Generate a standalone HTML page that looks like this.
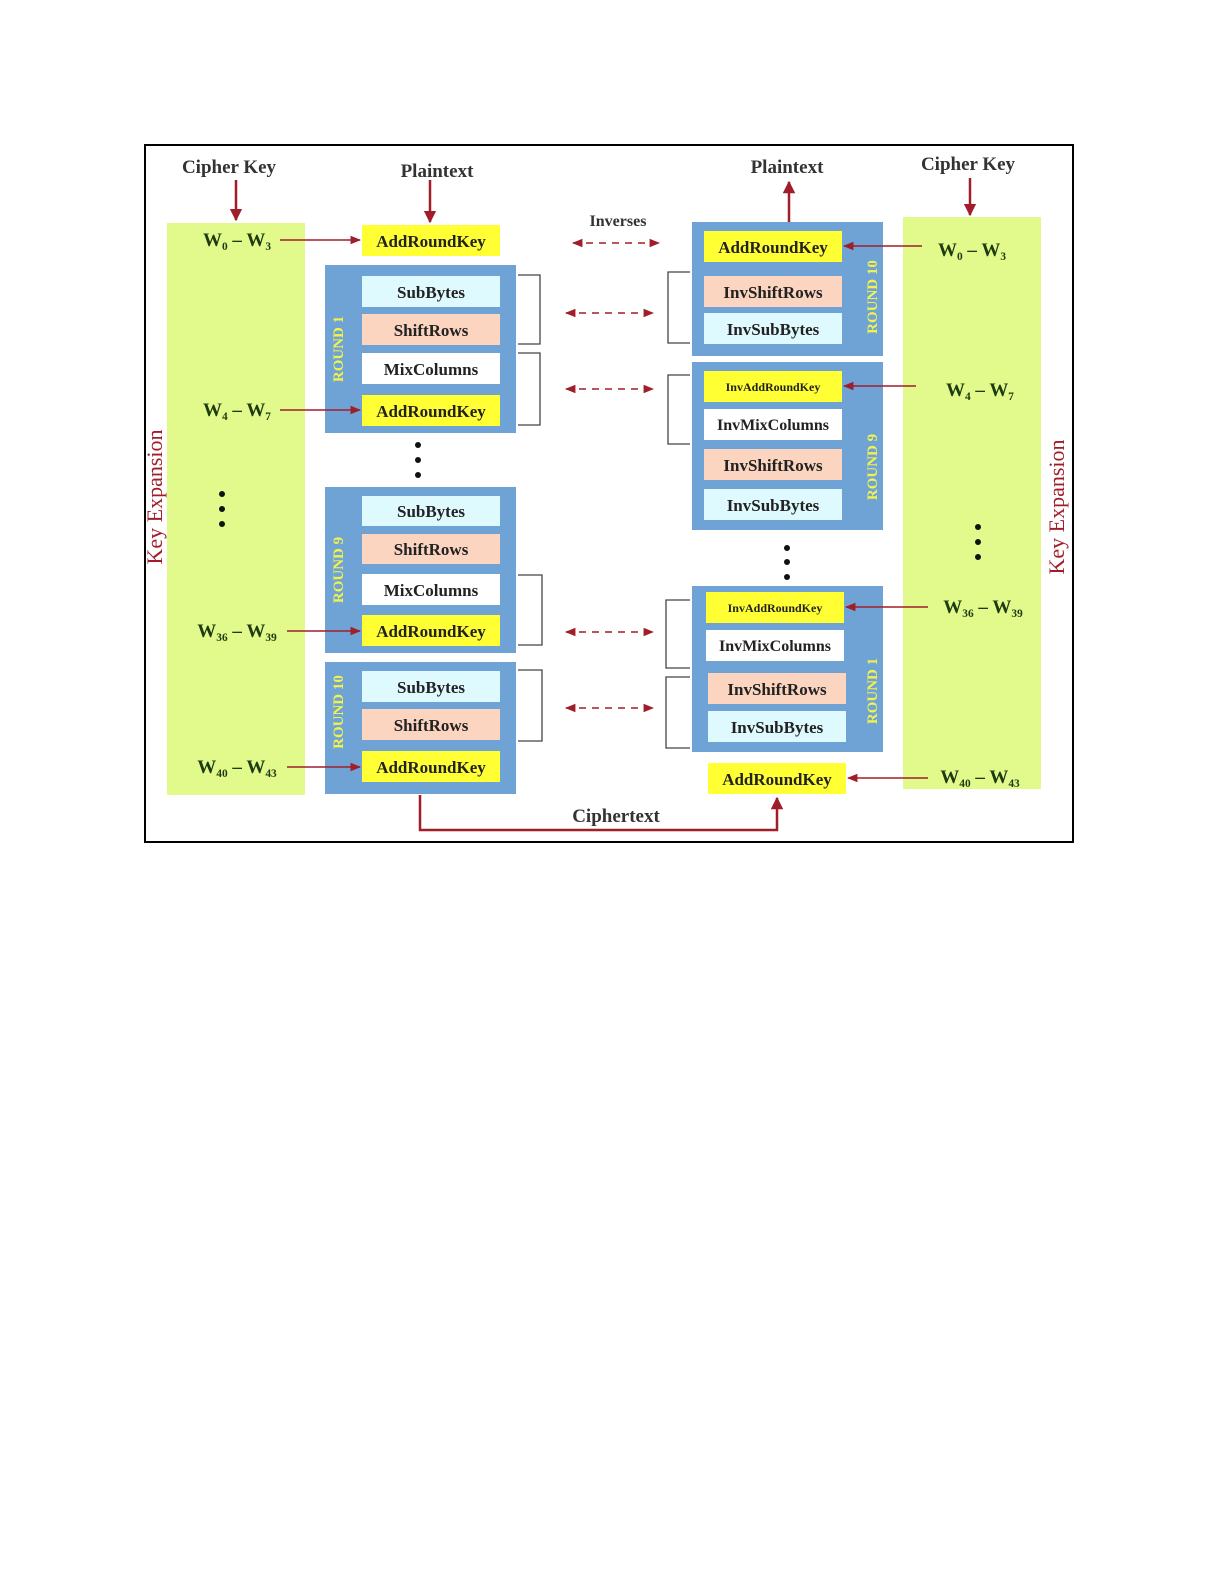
<!DOCTYPE html>
<html><head><meta charset="utf-8"><style>
html,body{margin:0;padding:0;background:#fff;overflow:hidden;width:1225px;height:1585px;}
svg{display:block;}
text{font-family:"Liberation Serif",serif;font-weight:bold;}
</style></head><body>
<svg width="1225" height="1585" viewBox="0 0 1225 1585" xmlns="http://www.w3.org/2000/svg">
<defs>
<marker id="ah" viewBox="0 0 10 10" refX="9" refY="5" markerWidth="7" markerHeight="7" orient="auto-start-reverse"><path d="M0,1 L10,5 L0,9 z" fill="#a01e2a"/></marker>
<marker id="ab" viewBox="0 0 10 10" refX="9" refY="5" markerWidth="5" markerHeight="5" orient="auto-start-reverse"><path d="M0,0 L10,5 L0,10 z" fill="#a01e2a"/></marker>
</defs>
<rect x="145" y="145" width="928" height="697" fill="#fff" stroke="#000" stroke-width="2"/>

<rect x="167" y="223" width="138" height="572" fill="#e2fa8c"/>
<rect x="903" y="217" width="138" height="572" fill="#e2fa8c"/>

<g fill="#333" font-size="19" text-anchor="middle">
<text x="229" y="173">Cipher Key</text>
<text x="437" y="177">Plaintext</text>
<text x="787" y="173">Plaintext</text>
<text x="968" y="170">Cipher Key</text>
<text x="618" y="226" font-size="16">Inverses</text>
<text x="616" y="822">Ciphertext</text>
</g>
<g stroke="#a01e2a" stroke-width="2.5" fill="none">
<line x1="236" y1="180" x2="236" y2="220" marker-end="url(#ab)"/>
<line x1="430" y1="180" x2="430" y2="222" marker-end="url(#ab)"/>
<line x1="789" y1="222" x2="789" y2="182" marker-end="url(#ab)"/>
<line x1="970" y1="178" x2="970" y2="215" marker-end="url(#ab)"/>
<polyline points="420,795 420,830 777,830 777,798" marker-end="url(#ab)"/>
</g>

<text transform="translate(162,497) rotate(-90)" text-anchor="middle" font-size="22" fill="#a01e2a" style="font-weight:normal">Key Expansion</text>
<text transform="translate(1064,507) rotate(-90)" text-anchor="middle" font-size="22" fill="#a01e2a" style="font-weight:normal">Key Expansion</text>

<g fill="#6fa3d6">
<rect x="325" y="265" width="191" height="168"/>
<rect x="325" y="487" width="191" height="166"/>
<rect x="325" y="662" width="191" height="132"/>
<rect x="692" y="222" width="191" height="134"/>
<rect x="692" y="362" width="191" height="168"/>
<rect x="692" y="586" width="191" height="166"/>
</g>

<g fill="#f2f24a" font-size="15" text-anchor="middle">
<text transform="translate(343,349) rotate(-90)">ROUND 1</text>
<text transform="translate(343,570) rotate(-90)">ROUND 9</text>
<text transform="translate(343,712) rotate(-90)">ROUND 10</text>
<text transform="translate(877,297) rotate(-90)">ROUND 10</text>
<text transform="translate(877,467) rotate(-90)">ROUND 9</text>
<text transform="translate(877,691) rotate(-90)">ROUND 1</text>
</g>

<g font-size="17" text-anchor="middle" fill="#222">
<rect x="362" y="225" width="138" height="31" fill="#ffff33"/><text x="431" y="247">AddRoundKey</text>
<rect x="362" y="276" width="138" height="31" fill="#dffaff"/><text x="431" y="298">SubBytes</text>
<rect x="362" y="314" width="138" height="31" fill="#fbd5bf"/><text x="431" y="336">ShiftRows</text>
<rect x="362" y="353" width="138" height="31" fill="#fff"/><text x="431" y="375">MixColumns</text>
<rect x="362" y="395" width="138" height="31" fill="#ffff33"/><text x="431" y="417">AddRoundKey</text>

<rect x="362" y="496" width="138" height="30" fill="#dffaff"/><text x="431" y="517">SubBytes</text>
<rect x="362" y="534" width="138" height="30" fill="#fbd5bf"/><text x="431" y="555">ShiftRows</text>
<rect x="362" y="574" width="138" height="31" fill="#fff"/><text x="431" y="596">MixColumns</text>
<rect x="362" y="615" width="138" height="31" fill="#ffff33"/><text x="431" y="637">AddRoundKey</text>

<rect x="362" y="671" width="138" height="31" fill="#dffaff"/><text x="431" y="693">SubBytes</text>
<rect x="362" y="709" width="138" height="31" fill="#fbd5bf"/><text x="431" y="731">ShiftRows</text>
<rect x="362" y="751" width="138" height="31" fill="#ffff33"/><text x="431" y="773">AddRoundKey</text>

<rect x="704" y="231" width="138" height="31" fill="#ffff33"/><text x="773" y="253">AddRoundKey</text>
<rect x="704" y="276" width="138" height="31" fill="#fbd5bf"/><text x="773" y="298">InvShiftRows</text>
<rect x="704" y="313" width="138" height="31" fill="#dffaff"/><text x="773" y="335">InvSubBytes</text>

<rect x="704" y="371" width="138" height="31" fill="#ffff33"/><text x="773" y="391" font-size="12">InvAddRoundKey</text>
<rect x="704" y="409" width="138" height="31" fill="#fff"/><text x="773" y="430" font-size="16">InvMixColumns</text>
<rect x="704" y="449" width="138" height="31" fill="#fbd5bf"/><text x="773" y="471">InvShiftRows</text>
<rect x="704" y="489" width="138" height="31" fill="#dffaff"/><text x="773" y="511">InvSubBytes</text>

<rect x="706" y="592" width="138" height="31" fill="#ffff33"/><text x="775" y="612" font-size="12">InvAddRoundKey</text>
<rect x="706" y="630" width="138" height="31" fill="#fff"/><text x="775" y="651" font-size="16">InvMixColumns</text>
<rect x="708" y="673" width="138" height="31" fill="#fbd5bf"/><text x="777" y="695">InvShiftRows</text>
<rect x="708" y="711" width="138" height="31" fill="#dffaff"/><text x="777" y="733">InvSubBytes</text>

<rect x="708" y="763" width="138" height="31" fill="#ffff33"/><text x="777" y="785">AddRoundKey</text>
</g>

<g font-size="19" fill="#1e3a10" text-anchor="middle">
<text x="237" y="246">W₀ – W₃</text>
<text x="237" y="416">W₄ – W₇</text>
<text x="237" y="637">W₃₆ – W₃₉</text>
<text x="237" y="773">W₄₀ – W₄₃</text>
<text x="972" y="256">W₀ – W₃</text>
<text x="980" y="396">W₄ – W₇</text>
<text x="983" y="613">W₃₆ – W₃₉</text>
<text x="980" y="783">W₄₀ – W₄₃</text>
</g>
<g stroke="#a01e2a" stroke-width="1.5" fill="none">
<line x1="280" y1="240" x2="360" y2="240" marker-end="url(#ah)"/>
<line x1="280" y1="410" x2="360" y2="410" marker-end="url(#ah)"/>
<line x1="287" y1="631" x2="360" y2="631" marker-end="url(#ah)"/>
<line x1="287" y1="767" x2="360" y2="767" marker-end="url(#ah)"/>
<line x1="922" y1="246" x2="844" y2="246" marker-end="url(#ah)"/>
<line x1="916" y1="386" x2="844" y2="386" marker-end="url(#ah)"/>
<line x1="928" y1="607" x2="846" y2="607" marker-end="url(#ah)"/>
<line x1="928" y1="778" x2="848" y2="778" marker-end="url(#ah)"/>
</g>

<g stroke="#a01e2a" stroke-width="1.5" stroke-dasharray="7,6" fill="none">
<line x1="573" y1="243" x2="659" y2="243" marker-start="url(#ah)" marker-end="url(#ah)"/>
<line x1="566" y1="313" x2="653" y2="313" marker-start="url(#ah)" marker-end="url(#ah)"/>
<line x1="566" y1="389" x2="653" y2="389" marker-start="url(#ah)" marker-end="url(#ah)"/>
<line x1="566" y1="632" x2="653" y2="632" marker-start="url(#ah)" marker-end="url(#ah)"/>
<line x1="566" y1="708" x2="653" y2="708" marker-start="url(#ah)" marker-end="url(#ah)"/>
</g>

<g stroke="#444" stroke-width="1.3" fill="none">
<polyline points="518,275 540,275 540,344 518,344"/>
<polyline points="518,353 540,353 540,425 518,425"/>
<polyline points="518,575 542,575 542,645 518,645"/>
<polyline points="518,670 542,670 542,741 518,741"/>
<polyline points="690,272 668,272 668,343 690,343"/>
<polyline points="690,375 668,375 668,444 690,444"/>
<polyline points="690,600 666,600 666,668 690,668"/>
<polyline points="690,677 666,677 666,748 690,748"/>
</g>

<g fill="#111">
<circle cx="418" cy="445" r="3"/><circle cx="418" cy="460" r="3"/><circle cx="418" cy="475" r="3"/>
<circle cx="222" cy="494" r="3"/><circle cx="222" cy="509" r="3"/><circle cx="222" cy="524" r="3"/>
<circle cx="787" cy="548" r="3"/><circle cx="787" cy="562" r="3"/><circle cx="787" cy="577" r="3"/>
<circle cx="978" cy="527" r="3"/><circle cx="978" cy="542" r="3"/><circle cx="978" cy="557" r="3"/>
</g>
</svg>
</body></html>
